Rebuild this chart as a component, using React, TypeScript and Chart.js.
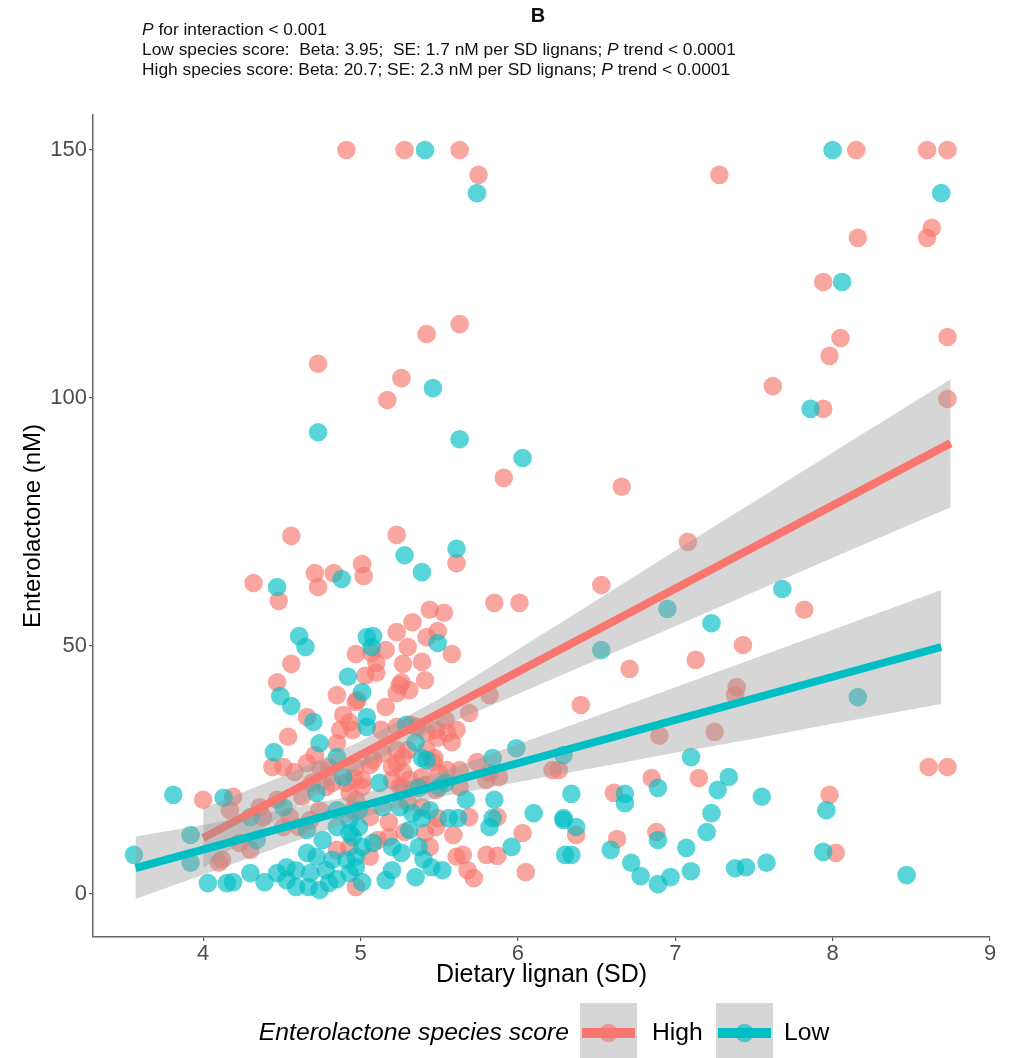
import React, { useEffect, useRef } from "react";
import { Chart, registerables } from "chart.js";

Chart.register(...registerables);

// ---------- DATA ----------
const xTicks = [4, 5, 6, 7, 8, 9];
const yTicks = [0, 50, 100, 150];

const headerTitle = "B";
const headerLine1 = ["P", " for interaction < 0.001"];
const headerLine2 = ["Low species score:  Beta: 3.95;  SE: 1.7 nM per SD lignans; ", "P", " trend < 0.0001"];
const headerLine3 = ["High species score: Beta: 20.7; SE: 2.3 nM per SD lignans; ", "P", " trend < 0.0001"];
const xTitle = "Dietary lignan (SD)";
const yTitle = "Enterolactone (nM)";
const legendTitle = "Enterolactone species score";
const groupNames = ["High", "Low"];

// High species score points [dietary lignan SD, enterolactone nM]
const highPoints: [number, number][] = [
  [4.91, 150], [5.28, 150], [5.63, 150], [8.15, 150], [8.6, 150], [8.73, 150],
  [5.75, 145], [7.28, 145], [8.63, 134.3], [8.6, 132.3], [8.16, 132.3], [7.94, 123.4],
  [8.05, 112.1], [8.73, 112.3], [5.63, 114.9], [5.42, 112.9], [4.73, 106.9], [5.26, 104],
  [5.17, 99.6], [7.62, 102.4], [7.98, 108.5], [7.94, 97.8], [8.73, 99.8], [5.91, 83.9],
  [6.66, 82.1], [7.08, 71], [5.23, 72.4], [4.56, 72.2], [4.32, 62.7], [4.48, 59.1],
  [4.71, 64.7], [4.73, 61.9], [4.83, 64.7], [5.01, 66.5], [5.02, 64.1], [5.61, 66.7],
  [5.85, 58.7], [6.01, 58.7], [5.44, 57.3], [5.53, 56.7], [5.33, 54.8], [5.23, 52.8],
  [5.49, 53.0], [5.42, 51.8], [5.58, 48.4], [5.3, 49.8], [4.97, 48.4], [5.1, 46.6],
  [5.27, 46.4], [5.39, 46.8], [5.1, 44.6], [5.03, 44.0], [5.41, 43.1], [5.25, 42.1],
  [5.23, 40.5], [5.31, 41.1], [4.97, 38.7], [5.16, 37.7], [5.82, 40.1], [5.69, 36.5],
  [4.56, 46.4], [4.47, 42.7], [4.85, 40.1], [4.98, 39.1], [4.66, 35.7], [4.89, 36.1],
  [4.54, 31.7], [4.44, 25.6], [4.51, 25.6], [4.58, 24.6], [4.66, 26.4], [4.8, 25.6],
  [5.07, 48.6], [5.16, 49.2], [5.26, 42.7], [4.93, 34.6], [4.87, 33.1], [4.95, 33.1],
  [5.13, 33.1], [5.23, 33.7], [5.36, 33.7], [5.48, 33.1], [5.54, 35.1], [5.42, 29.0],
  [5.47, 27.4], [5.14, 28.4], [5.08, 27.0], [5.23, 26.4], [5.27, 27.6], [4.85, 30.4],
  [4.71, 28.0], [4.75, 25.0], [4.69, 22.4], [4.78, 21.6], [4.97, 25.6], [5.01, 23.0],
  [5.2, 23.0], [5.25, 21.6], [5.39, 23.6], [5.5, 24.4], [4.0, 19.0], [4.19, 19.6],
  [4.1, 6.3], [4.12, 6.9], [4.3, 8.9], [4.23, 10.3], [4.17, 16.9], [4.38, 15.5],
  [4.36, 17.5], [4.47, 19.0], [4.55, 15.5], [4.51, 13.5], [4.61, 13.5], [4.68, 14.9],
  [4.74, 16.9], [4.82, 22.4], [4.91, 22.4], [4.93, 20.4], [4.97, 19.0], [4.63, 19.6],
  [4.85, 8.9], [4.93, 9.5], [4.97, 1.4], [5.32, 34.1], [5.42, 32.5], [5.55, 32.5],
  [5.61, 33.1], [5.58, 30.6], [5.49, 31.5], [5.3, 29.0], [5.23, 29.0], [5.06, 26.0],
  [5.2, 25.6], [5.27, 24.6], [5.46, 26.6], [5.55, 25.0], [5.63, 25.0], [5.74, 26.6],
  [5.82, 24.4], [5.88, 23.6], [6.22, 25.0], [4.96, 23.4], [5.01, 21.6], [5.27, 21.4],
  [5.31, 23.0], [5.41, 22.0], [5.48, 21.0], [5.63, 21.6], [5.8, 23.0], [5.69, 15.5],
  [5.87, 15.5], [6.03, 12.3], [5.8, 7.9], [5.87, 7.7], [6.05, 4.4], [5.59, 11.9],
  [5.61, 7.5], [5.65, 7.9], [5.68, 4.8], [5.72, 3.2], [5.06, 7.5], [5.11, 10.9],
  [5.18, 11.5], [5.28, 12.5], [5.41, 12.3], [5.44, 9.5], [5.48, 13.5], [4.95, 16.9],
  [5.06, 15.5], [5.3, 18.5], [5.39, 17.5], [5.18, 14.5], [5.49, 15.3], [6.53, 62.3],
  [7.82, 57.3], [6.71, 45.4], [7.13, 47.2], [7.43, 50.2], [6.4, 38.1], [7.39, 41.7],
  [7.38, 40.1], [6.9, 31.9], [7.25, 32.7], [6.26, 25.0], [8.61, 25.6], [8.73, 25.6],
  [6.85, 23.4], [7.15, 23.4], [6.61, 20.4], [7.98, 20.0], [6.37, 11.9], [6.88, 12.5],
  [6.63, 11.1], [8.02, 8.3],
];

// Low species score points
const lowPoints: [number, number][] = [
  [5.41, 150], [8.0, 150], [5.74, 141.3], [8.69, 141.3], [8.06, 123.4], [5.46, 102],
  [7.86, 97.8], [4.73, 93.1], [5.63, 91.7], [6.03, 87.9], [5.28, 68.3], [5.39, 64.9],
  [5.61, 69.6], [4.47, 61.9], [4.88, 63.5], [4.61, 52.0], [4.65, 49.8], [4.49, 39.9],
  [4.56, 37.9], [5.04, 51.8], [4.92, 43.8], [5.01, 40.7], [4.7, 34.7], [5.04, 35.7],
  [5.08, 52.0], [5.07, 49.8], [5.49, 50.6], [4.74, 30.4], [4.45, 28.6], [4.85, 27.6],
  [5.04, 33.7], [5.29, 34.1], [5.35, 30.6], [5.42, 27.0], [4.89, 23.6], [5.12, 22.4],
  [5.37, 21.4], [5.5, 21.6], [5.39, 27.4], [5.99, 29.4], [5.84, 27.4], [5.67, 19.0],
  [5.56, 15.3], [5.62, 15.3], [5.85, 19.0], [5.84, 15.3], [5.82, 13.5], [6.1, 16.3],
  [6.29, 15.3], [5.96, 9.5], [6.3, 7.9], [5.52, 4.8], [5.45, 5.4], [5.35, 3.4],
  [5.4, 7.0], [5.2, 4.8], [5.16, 2.8], [5.01, 2.4], [4.97, 5.4], [5.31, 12.9],
  [5.2, 9.5], [5.26, 8.3], [5.37, 9.5], [5.08, 10.3], [5.01, 9.5], [4.95, 11.5],
  [4.99, 13.5], [4.99, 16.9], [5.14, 17.5], [5.25, 17.5], [5.44, 16.9], [5.33, 16.3],
  [5.39, 15.3], [5.54, 22.4], [3.81, 20.0], [4.13, 19.4], [3.92, 11.9], [3.92, 6.3],
  [4.03, 2.2], [4.15, 2.2], [4.19, 2.4], [4.3, 4.2], [4.39, 2.4], [4.47, 4.2],
  [4.53, 2.8], [4.59, 1.4], [4.53, 5.4], [4.34, 10.9], [4.3, 15.5], [4.51, 17.5],
  [4.66, 12.9], [4.76, 10.9], [4.72, 20.4], [4.85, 16.9], [4.93, 14.9], [4.85, 13.5],
  [4.93, 12.3], [4.97, 7.5], [4.91, 6.9], [4.82, 6.9], [4.72, 7.5], [4.66, 8.3],
  [4.78, 4.8], [4.68, 4.2], [4.59, 4.8], [4.93, 4.2], [4.8, 2.2], [4.67, 1.4],
  [4.74, 0.8], [4.85, 3.0], [3.56, 7.9], [6.53, 49.2], [6.95, 57.5], [7.68, 61.5],
  [7.23, 54.6], [8.16, 39.7], [6.29, 28.0], [7.1, 27.6], [6.89, 21.4], [7.34, 23.6],
  [7.27, 21.0], [6.34, 20.2], [6.68, 20.2], [6.68, 18.3], [7.55, 19.6], [7.96, 16.9],
  [7.23, 16.3], [6.29, 14.9], [6.37, 13.5], [6.89, 10.9], [7.2, 12.5], [6.59, 8.9],
  [7.07, 9.3], [6.34, 7.9], [7.94, 8.5], [6.72, 6.3], [7.58, 6.3], [7.38, 5.2],
  [7.45, 5.4], [7.1, 4.6], [6.78, 3.6], [6.97, 3.4], [6.89, 2.0], [8.47, 3.8],
];

// Fitted lines
const highFitX = [4.0, 8.75];
const highFitY = [11.3, 90.9];
const lowFitX = [3.57, 8.69];
const lowFitY = [5.2, 49.8];

// Confidence bands
const highBandX = [4.0, 4.5, 5.0, 5.5, 6.0, 6.5, 7.0, 7.5, 8.0, 8.75];
const highBandUpper = [17.3, 23.7, 30.8, 39.3, 49.3, 59.2, 69.2, 79.1, 89.0, 103.8];
const highBandLower = [5.3, 15.7, 25.4, 33.5, 40.3, 47.2, 54.0, 60.9, 67.8, 78.0];
const lowBandX = [3.57, 4.0, 4.5, 5.0, 5.5, 6.0, 6.5, 7.0, 7.5, 8.0, 8.69];
const lowBandUpper = [11.6, 13.9, 16.9, 20.1, 24.5, 30.2, 35.9, 41.7, 47.5, 53.3, 61.3];
const lowBandLower = [-1.0, 3.9, 9.7, 15.3, 19.5, 22.6, 25.5, 28.5, 31.3, 34.3, 38.3];

// ---------- STYLE ----------
const RED = "#F8766D";
const TEAL = "#00BFC4";
const RED_PT = "rgba(248,118,109,0.65)";
const TEAL_PT = "rgba(0,191,196,0.65)";
const BAND = "rgba(153,153,153,0.4)";
const FONT = "'Liberation Sans', Arial, Helvetica, sans-serif";

const W = 1020;
const H = 1058;

const toXY = (xs: number[], ys: number[]) => xs.map((x, i) => ({ x, y: ys[i] }));

const decorPlugin = {
  id: "decor",
  afterDraw(chart: any) {
    const ctx = chart.ctx as CanvasRenderingContext2D;
    const area = chart.chartArea;
    ctx.save();
    ctx.fillStyle = "#111";
    ctx.textBaseline = "middle";

    // Title "B"
    ctx.font = `bold 20px ${FONT}`;
    ctx.textAlign = "center";
    ctx.fillText(headerTitle, 538, 16);

    // Header lines (segments alternate normal / italic P)
    ctx.textAlign = "left";
    const base = 15;
    const target = 594;
    const measure = (segs: string[], size: number) => {
      let w = 0;
      segs.forEach((s) => {
        ctx.font = `${s === "P" ? "italic " : ""}${size}px ${FONT}`;
        w += ctx.measureText(s).width;
      });
      return w;
    };
    const size = (base * target) / measure(headerLine2, base);
    const drawSegs = (segs: string[], x: number, y: number) => {
      let cx = x;
      segs.forEach((s) => {
        ctx.font = `${s === "P" ? "italic " : ""}${size}px ${FONT}`;
        ctx.fillText(s, cx, y);
        cx += ctx.measureText(s).width;
      });
    };
    drawSegs(headerLine1, 142, 30);
    drawSegs(headerLine2, 142, 50);
    drawSegs(headerLine3, 142, 70);

    // Axis titles
    ctx.fillStyle = "#000";
    ctx.font = `25px ${FONT}`;
    ctx.textAlign = "center";
    ctx.fillText(xTitle, (area.left + area.right) / 2, 975);
    ctx.save();
    ctx.translate(33, (area.top + area.bottom) / 2);
    ctx.rotate(-Math.PI / 2);
    ctx.font = `24px ${FONT}`;
    ctx.fillText(yTitle, 0, 0);
    ctx.restore();

    // Legend
    const ly = 1033;
    ctx.font = `italic 24.7px ${FONT}`;
    ctx.textAlign = "right";
    ctx.fillText(legendTitle, 569, ly);
    const keys = [
      { x: 580, line: RED, pt: RED_PT, label: groupNames[0], tx: 652 },
      { x: 716, line: TEAL, pt: TEAL_PT, label: groupNames[1], tx: 784 },
    ];
    keys.forEach((k) => {
      ctx.fillStyle = "rgb(214,214,214)";
      ctx.fillRect(k.x, ly - 30, 57, 60);
      ctx.beginPath();
      ctx.fillStyle = k.pt;
      ctx.arc(k.x + 28.5, ly, 9.3, 0, Math.PI * 2);
      ctx.fill();
      ctx.beginPath();
      ctx.strokeStyle = k.line;
      ctx.lineWidth = 10;
      ctx.moveTo(k.x + 2, ly);
      ctx.lineTo(k.x + 55, ly);
      ctx.stroke();
      ctx.fillStyle = "#000";
      ctx.font = `24.7px ${FONT}`;
      ctx.textAlign = "left";
      ctx.fillText(k.label, k.tx, ly);
    });
    ctx.restore();
  },
};

export default function App() {
  const ref = useRef<HTMLCanvasElement | null>(null);

  useEffect(() => {
    if (!ref.current) return;
    const datasets: any[] = [
      // 0 low line (top)
      {
        type: "line",
        data: toXY(lowFitX, lowFitY),
        borderColor: TEAL,
        borderWidth: 8,
        pointRadius: 0,
        fill: false,
        order: 0,
      },
      // 1 low band upper (fills to 2)
      {
        type: "line",
        data: toXY(lowBandX, lowBandUpper),
        borderWidth: 0,
        borderColor: "rgba(0,0,0,0)",
        pointRadius: 0,
        backgroundColor: BAND,
        fill: 2,
        order: 1,
      },
      // 2 low band lower
      {
        type: "line",
        data: toXY(lowBandX, lowBandLower),
        borderWidth: 0,
        borderColor: "rgba(0,0,0,0)",
        pointRadius: 0,
        fill: false,
        order: 1,
      },
      // 3 high line
      {
        type: "line",
        data: toXY(highFitX, highFitY),
        borderColor: RED,
        borderWidth: 8,
        pointRadius: 0,
        fill: false,
        order: 2,
      },
      // 4 high band upper (fills to 5)
      {
        type: "line",
        data: toXY(highBandX, highBandUpper),
        borderWidth: 0,
        borderColor: "rgba(0,0,0,0)",
        pointRadius: 0,
        backgroundColor: BAND,
        fill: 5,
        order: 3,
      },
      // 5 high band lower
      {
        type: "line",
        data: toXY(highBandX, highBandLower),
        borderWidth: 0,
        borderColor: "rgba(0,0,0,0)",
        pointRadius: 0,
        fill: false,
        order: 3,
      },
      // 6 low points
      {
        type: "scatter",
        data: lowPoints.map(([x, y]) => ({ x, y })),
        backgroundColor: TEAL_PT,
        borderWidth: 0,
        pointRadius: 9.3,
        order: 4,
      },
      // 7 high points
      {
        type: "scatter",
        data: highPoints.map(([x, y]) => ({ x, y })),
        backgroundColor: RED_PT,
        borderWidth: 0,
        pointRadius: 9.3,
        order: 5,
      },
    ];

    const chart = new Chart(ref.current, {
      type: "scatter",
      data: { datasets },
      options: {
        animation: false,
        responsive: false,
        devicePixelRatio: 1,
        layout: { padding: { left: 0, right: 30, top: 115, bottom: 61 } },
        plugins: {
          legend: { display: false },
          tooltip: { enabled: false },
          title: { display: false },
        },
        scales: {
          x: {
            type: "linear",
            min: 3.3,
            max: 9,
            afterBuildTicks: (s: any) => {
              s.ticks = xTicks.map((v) => ({ value: v }));
            },
            afterFit: (s: any) => {
              s.height = 60;
            },
            grid: { drawOnChartArea: false, drawTicks: true, tickLength: 4, color: "#555", lineWidth: 1.2 },
            border: { display: true, color: "#666", width: 1.5 },
            ticks: {
              color: "#4D4D4D",
              font: { family: FONT, size: 22 },
              padding: 0,
              maxRotation: 0,
              autoSkip: false,
            },
          },
          y: {
            type: "linear",
            min: -8.67,
            max: 157.06,
            afterBuildTicks: (s: any) => {
              s.ticks = yTicks.map((v) => ({ value: v }));
            },
            afterFit: (s: any) => {
              s.width = 93;
            },
            grid: { drawOnChartArea: false, drawTicks: true, tickLength: 4, color: "#555", lineWidth: 1.2 },
            border: { display: true, color: "#666", width: 1.5 },
            ticks: {
              color: "#4D4D4D",
              font: { family: FONT, size: 22 },
              padding: 2,
              autoSkip: false,
            },
          },
        },
      },
      plugins: [decorPlugin],
    });
    return () => chart.destroy();
  }, []);

  return (
    <div style={{ position: "absolute", left: 0, top: 0, width: W, height: H, background: "#fff" }}>
      <canvas ref={ref} width={W} height={H} style={{ display: "block", width: W, height: H }} />
    </div>
  );
}
